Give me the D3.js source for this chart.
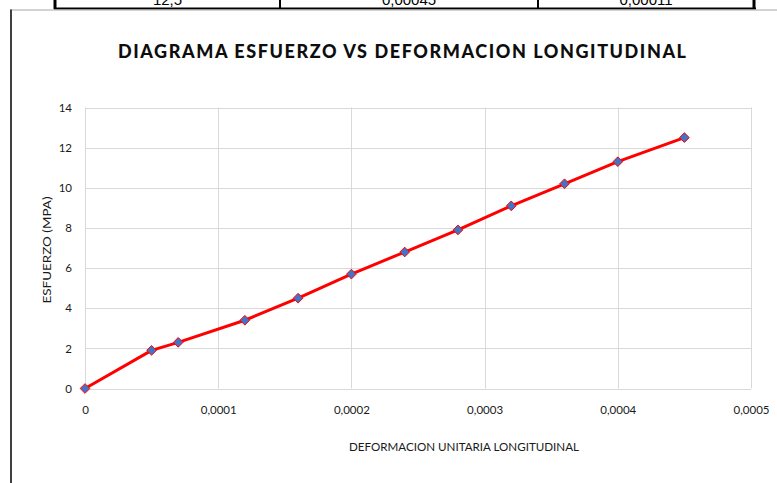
<!DOCTYPE html>
<html>
<head>
<meta charset="utf-8">
<script src="https://cdn.jsdelivr.net/npm/d3@7"></script>
<style>
  html, body { margin: 0; padding: 0; background: #fff; }
  svg { display: block; }
</style>
</head>
<body>
<svg id="chart" width="777" height="483"></svg>
<script>
// Stress vs strain test readings
const deformacion = [0, 0.00005, 0.00007, 0.00012, 0.00016, 0.0002, 0.00024, 0.00028, 0.00032, 0.00036, 0.0004, 0.00045];
const esfuerzo    = [0, 1.9, 2.3, 3.4, 4.5, 5.7, 6.8, 7.9, 9.1, 10.2, 11.3, 12.5];
const xTicks = [0, 0.0001, 0.0002, 0.0003, 0.0004, 0.0005];
const yTicks = [0, 2, 4, 6, 8, 10, 12, 14];
// last row of the data table above the chart
const tableRow = ["12,5", "0,00045", "0,00011"];

const svg = d3.select("#chart");
const font = "Lato, 'Open Sans', sans-serif";

// table fragment
const colEdges = [55, 280, 538, 754];
const tbl = svg.append("g");
tableRow.forEach((t, i) => {
  tbl.append("text")
    .attr("x", (colEdges[i] + colEdges[i + 1]) / 2)
    .attr("y", 5)
    .attr("text-anchor", "middle")
    .attr("font-family", "Arial, 'Liberation Sans', sans-serif")
    .attr("font-size", 15)
    .attr("fill", "#000")
    .text(t);
});
colEdges.forEach((x, i) => {
  tbl.append("line")
    .attr("x1", x).attr("x2", x).attr("y1", 0).attr("y2", 9)
    .attr("stroke", "#000").attr("stroke-width", (i === 0 || i === 3) ? 3 : 2);
});
tbl.append("line")
  .attr("x1", 54).attr("x2", 756).attr("y1", 8.5).attr("y2", 8.5)
  .attr("stroke", "#000").attr("stroke-width", 2);

// chart frame
svg.append("line").attr("x1", 10).attr("x2", 777).attr("y1", 10).attr("y2", 10)
  .attr("stroke", "#a6a6a6").attr("stroke-width", 1);
svg.append("line").attr("x1", 11).attr("x2", 11).attr("y1", 9.5).attr("y2", 483)
  .attr("stroke", "#404040").attr("stroke-width", 2);

// scales
const x = d3.scaleLinear().domain([0, 0.0005]).range([85, 751]);
const y = d3.scaleLinear().domain([0, 14]).range([388.5, 107.5]);

// gridlines
const grid = svg.append("g");
grid.selectAll(".hg").data(yTicks).join("line")
  .attr("x1", x(0)).attr("x2", x(0.0005))
  .attr("y1", d => Math.round(y(d)) + 0.5).attr("y2", d => Math.round(y(d)) + 0.5)
  .attr("stroke", "#d9d9d9").attr("stroke-width", 1);
grid.selectAll(".vg").data(xTicks).join("line")
  .attr("x1", d => Math.round(x(d)) + 0.5).attr("x2", d => Math.round(x(d)) + 0.5)
  .attr("y1", y(14)).attr("y2", y(0))
  .attr("stroke", "#d9d9d9").attr("stroke-width", 1);

// axes (labels only)
const fmtX = d => d === 0 ? "0" : d.toFixed(4).replace(".", ",");
const xAxis = svg.append("g")
  .attr("transform", `translate(0,${y(0)})`)
  .call(d3.axisBottom(x).tickValues(xTicks).tickFormat(fmtX).tickSize(0).tickPadding(17));
const yAxis = svg.append("g")
  .attr("transform", `translate(${x(0)},0)`)
  .call(d3.axisLeft(y).tickValues(yTicks).tickFormat(d3.format("d")).tickSize(0).tickPadding(13));
[xAxis, yAxis].forEach(a => {
  a.select(".domain").remove();
  a.selectAll("text").attr("font-family", font).attr("font-size", 11.5).attr("fill", "#1a1a1a");
});

// data line
const pts = deformacion.map((d, i) => [d, esfuerzo[i]]);
svg.append("path")
  .datum(pts)
  .attr("fill", "none")
  .attr("stroke", "#ff0000")
  .attr("stroke-width", 3)
  .attr("stroke-linejoin", "round")
  .attr("d", d3.line().x(d => x(d[0])).y(d => y(d[1])));

// diamond markers
const diamond = d3.symbol().type(d3.symbolDiamond2).size(60);
svg.selectAll(".mk").data(pts).join("path")
  .attr("transform", d => `translate(${x(d[0])},${y(d[1])})`)
  .attr("d", diamond)
  .attr("fill", "#4472c4")
  .attr("stroke", "#ff0000")
  .attr("stroke-width", 1);

// titles
svg.append("text")
  .attr("x", 402).attr("y", 58)
  .attr("text-anchor", "middle")
  .attr("font-family", font).attr("font-weight", 900).attr("font-size", 18)
  .attr("fill", "#0d0d0d")
  .attr("textLength", 568).attr("lengthAdjust", "spacing")
  .text("DIAGRAMA ESFUERZO VS DEFORMACION LONGITUDINAL");

svg.append("text")
  .attr("x", 464).attr("y", 451)
  .attr("text-anchor", "middle")
  .attr("font-family", font).attr("font-size", 11)
  .attr("fill", "#1a1a1a")
  .attr("textLength", 230).attr("lengthAdjust", "spacingAndGlyphs")
  .text("DEFORMACION UNITARIA LONGITUDINAL");

svg.append("text")
  .attr("transform", "translate(51,250) rotate(-90)")
  .attr("text-anchor", "middle")
  .attr("font-family", font).attr("font-size", 11)
  .attr("fill", "#1a1a1a")
  .attr("textLength", 107).attr("lengthAdjust", "spacingAndGlyphs")
  .text("ESFUERZO (MPA)");
</script>
</body>
</html>
